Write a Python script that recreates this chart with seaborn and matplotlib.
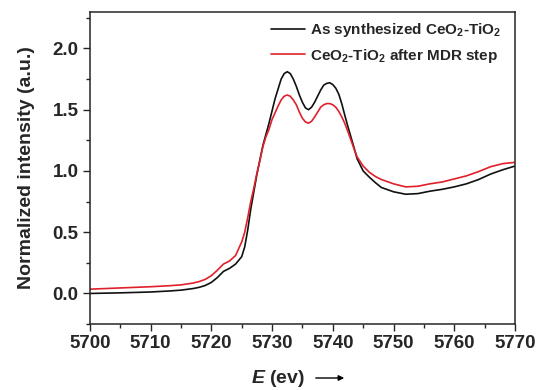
import matplotlib
matplotlib.use("Agg")
import matplotlib.pyplot as plt
from matplotlib.ticker import MultipleLocator
import pandas as pd
import seaborn as sns

# Ce L3-edge XANES spectra
energy = [5700, 5705, 5710, 5713, 5715, 5717, 5718, 5719, 5720, 5721, 5722,
          5723, 5724, 5725, 5725.5, 5726, 5726.5, 5727, 5727.5, 5728, 5728.5,
          5729, 5729.5, 5730, 5730.5, 5731, 5731.5, 5732, 5732.5, 5733,
          5733.5, 5734, 5734.5, 5735, 5735.5, 5736, 5736.5, 5737, 5737.5,
          5738, 5738.5, 5739, 5739.5, 5740, 5740.5, 5741, 5741.5, 5742,
          5742.5, 5743, 5743.5, 5744, 5745, 5746, 5747, 5748, 5750, 5752,
          5754, 5756, 5758, 5760, 5762, 5764, 5766, 5768, 5770]
as_synth = [0.0, 0.005, 0.012, 0.02, 0.027, 0.04, 0.05, 0.065, 0.09, 0.13,
            0.18, 0.205, 0.24, 0.30, 0.38, 0.52, 0.69, 0.83, 0.97, 1.09,
            1.21, 1.30, 1.39, 1.49, 1.59, 1.67, 1.75, 1.795, 1.81, 1.795,
            1.75, 1.69, 1.62, 1.56, 1.515, 1.50, 1.52, 1.56, 1.61, 1.66, 1.70,
            1.715, 1.72, 1.705, 1.675, 1.625, 1.545, 1.45, 1.36, 1.275, 1.19,
            1.10, 1.00, 0.95, 0.905, 0.865, 0.83, 0.81, 0.815, 0.835, 0.85,
            0.87, 0.895, 0.93, 0.975, 1.01, 1.04]
after_mdr = [0.035, 0.045, 0.055, 0.063, 0.07, 0.085, 0.097, 0.115, 0.145,
             0.19, 0.24, 0.265, 0.31, 0.42, 0.50, 0.62, 0.75, 0.86, 0.98,
             1.085, 1.20, 1.28, 1.34, 1.42, 1.475, 1.53, 1.58, 1.61, 1.62,
             1.61, 1.58, 1.54, 1.48, 1.43, 1.40, 1.39, 1.405, 1.44, 1.48,
             1.52, 1.54, 1.55, 1.55, 1.54, 1.52, 1.485, 1.44, 1.385, 1.32,
             1.25, 1.18, 1.115, 1.04, 0.99, 0.955, 0.93, 0.895, 0.87, 0.875,
             0.895, 0.91, 0.935, 0.96, 0.995, 1.035, 1.06, 1.07]
labels = [r"As synthesized CeO$_2$-TiO$_2$", r"CeO$_2$-TiO$_2$ after MDR step"]
colors = ["#111111", "#e0202a"]

sns.set_style("ticks")
plt.rcParams["font.family"] = ["Liberation Sans", "DejaVu Sans"]
plt.rcParams["font.weight"] = "bold"
plt.rcParams["mathtext.fontset"] = "custom"
plt.rcParams["mathtext.rm"] = "Liberation Sans:bold"
plt.rcParams["mathtext.bf"] = "Liberation Sans:bold"
plt.rcParams["mathtext.it"] = "Liberation Sans:italic:bold"

df = pd.DataFrame({
    "E": energy * 2,
    "I": as_synth + after_mdr,
    "sample": [labels[0]] * len(energy) + [labels[1]] * len(energy),
})

fig = plt.figure(figsize=(5.41, 3.90), dpi=100)
ax = fig.add_axes([0.166, 0.169, 0.786, 0.801])
sns.lineplot(data=df, x="E", y="I", hue="sample", palette=colors,
             linewidth=1.2, ax=ax, legend=True)

ax.set_xlim(5700, 5770)
ax.set_ylim(-0.25, 2.3)
ax.xaxis.set_major_locator(MultipleLocator(10))
ax.xaxis.set_minor_locator(MultipleLocator(5))
ax.yaxis.set_major_locator(MultipleLocator(0.5))
ax.yaxis.set_minor_locator(MultipleLocator(0.25))
ax.tick_params(which="major", direction="out", length=5, width=1,
               labelsize=13.5, pad=3)
ax.tick_params(which="minor", direction="out", length=3, width=1)
ax.tick_params(top=False, right=False, which="both")
for lab in ax.get_xticklabels() + ax.get_yticklabels():
    lab.set_fontweight("bold")
for sp in ax.spines.values():
    sp.set_linewidth(1.1)
    sp.set_visible(True)

ax.set_ylabel("Normalized intensity (a.u.)", fontsize=14, fontweight="bold",
              labelpad=13)
ax.set_xlabel(r"$\mathit{E}$ (ev)", fontsize=14, fontweight="bold")
ax.xaxis.label.set_va("center")
ax.xaxis.set_label_coords(0.442, -0.173)
ax.annotate("", xy=(347, 12), xytext=(313, 12), xycoords="figure pixels",
            textcoords="figure pixels",
            arrowprops=dict(arrowstyle="-|>", color="black", lw=1.0,
                            mutation_scale=8))

leg = ax.legend(loc="upper right", frameon=False, fontsize=11,
                handlelength=2.2, handletextpad=0.35, borderaxespad=0.2,
                labelspacing=0.5, bbox_to_anchor=(0.99, 1.0))
for t in leg.get_texts():
    t.set_fontweight("bold")

fig.savefig("out.png", dpi=100)
